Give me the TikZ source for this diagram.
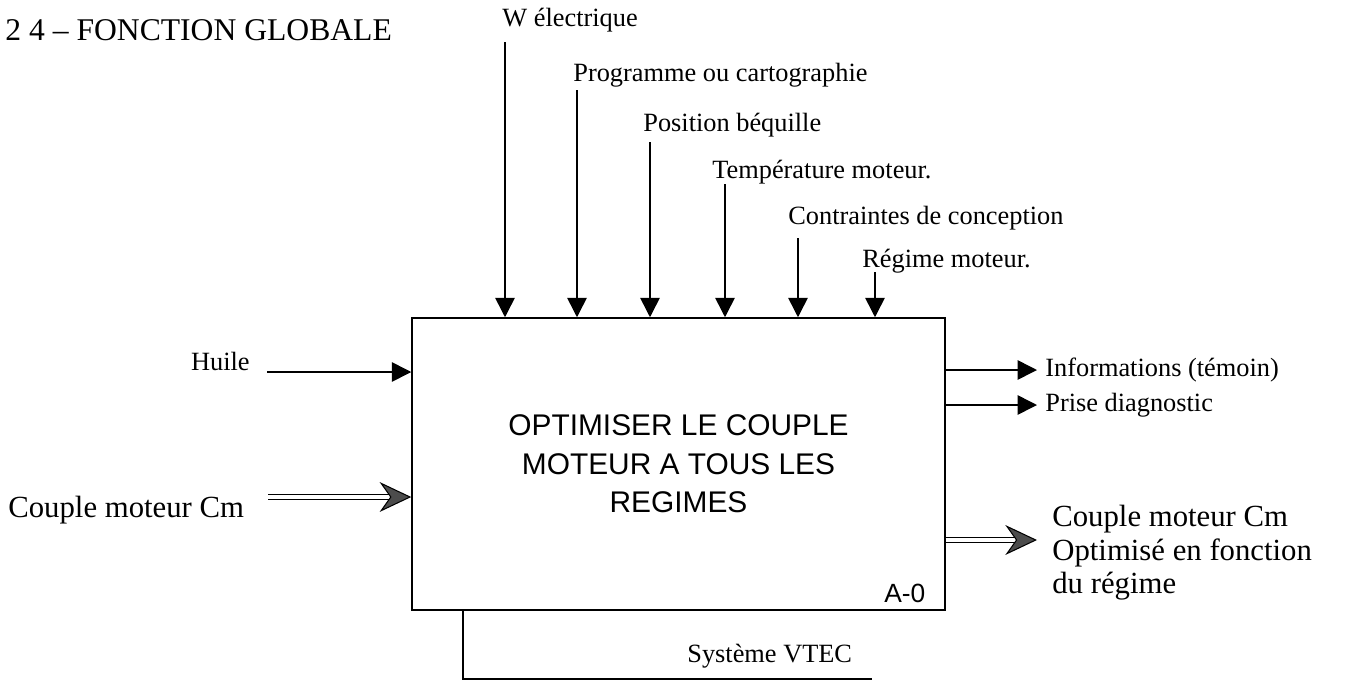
\documentclass[tikz,border=0pt]{standalone}
\usepackage{fontspec}
\setmainfont{Liberation Serif}
\newfontfamily\boxfont{Liberation Sans}
\usetikzlibrary{arrows.meta,positioning,calc}

\begin{document}
\begin{tikzpicture}[x=0.02cm, y=-0.02cm,
  fnbox/.style={rectangle, draw, line width=0.9pt, minimum width=10.66cm,
                minimum height=5.84cm, inner sep=0pt},
  arrow/.style={-{Triangle[length=11pt,width=11pt]}, line width=0.9pt},
  dblarrow/.style={double, double distance=1.8pt, line width=0.6pt,
                   -{Stealth[length=18pt,width=17pt,inset=6pt,fill=black!70]}},
  lbl/.style={inner sep=0pt, anchor=west, font=\fontsize{15}{18}\selectfont},
  big/.style={inner sep=0pt, font=\fontsize{17.5}{19}\selectfont}
]
\useasboundingbox (0,0) rectangle (1347,684);

\node[lbl, font=\fontsize{18}{21}\selectfont] (title) at (5,30) {2 4 – FONCTION GLOBALE};

\node[fnbox] (box) at (678.5,464) {};
\node[align=center, font=\boxfont\fontsize{17}{22}\selectfont] (fn) at (box.center)
  {OPTIMISER LE COUPLE\\MOTEUR A TOUS LES\\REGIMES};
\node[anchor=south east, inner sep=0pt, font=\boxfont\fontsize{15}{18}\selectfont]
  (aref) at ([shift={(-0.4cm,0.15cm)}]box.south east) {A-0};

% controles
\node[lbl] (welec) at (502,20) {W électrique};
\node[lbl] (prog) at (573,75) {Programme ou cartographie};
\node[lbl] (bequ) at (643,125) {Position béquille};
\node[lbl] (temp) at (712,172) {Température moteur.};
\node[lbl] (contr) at (788,218) {Contraintes de conception};
\node[lbl] (regm) at (862,261) {Régime moteur.};
\coordinate (welec-s) at (505,42);
\coordinate (prog-s) at (577,90);
\coordinate (bequ-s) at (650,142);
\coordinate (temp-s) at (725,184);
\coordinate (contr-s) at (798,238);
\coordinate (regm-s) at (875,272);
\draw[arrow] (welec-s) -- (welec-s |- box.north);
\draw[arrow] (prog-s) -- (prog-s |- box.north);
\draw[arrow] (bequ-s) -- (bequ-s |- box.north);
\draw[arrow] (temp-s) -- (temp-s |- box.north);
\draw[arrow] (contr-s) -- (contr-s |- box.north);
\draw[arrow] (regm-s) -- (regm-s |- box.north);

% entrees
\node[lbl, anchor=east] (huile) at (250,361) {Huile};
\coordinate (huile-s) at (267,372);
\draw[arrow] (huile-s) -- (huile-s -| box.west);
\node[big, anchor=west] (cmin) at (8,510) {Couple moteur Cm};
\coordinate (cmin-s) at (268,497);
\draw[dblarrow] (cmin-s) -- (cmin-s -| box.west);

% sorties
\coordinate (info-e) at (1037,370);
\coordinate (diag-e) at (1037,405);
\coordinate (cmout-e) at (1037,540);
\draw[arrow] (info-e -| box.east) -- (info-e);
\draw[arrow] (diag-e -| box.east) -- (diag-e);
\draw[dblarrow] (cmout-e -| box.east) -- (cmout-e);
\node[lbl] (info) at (1045,370) {Informations (témoin)};
\node[lbl] (diag) at (1045,405) {Prise diagnostic};
\node[big, anchor=west, align=left] (cmout) at (1052,553)
  {Couple moteur Cm\\Optimisé en fonction\\du régime};

% support
\coordinate (vtec-c) at (463,679);
\coordinate (vtec-e) at (872,679);
\draw[line width=0.9pt] (vtec-c |- box.south) -- (vtec-c) -- (vtec-e);
\node[lbl] (vtec) at (687,656) {Système VTEC};
\end{tikzpicture}
\end{document}
